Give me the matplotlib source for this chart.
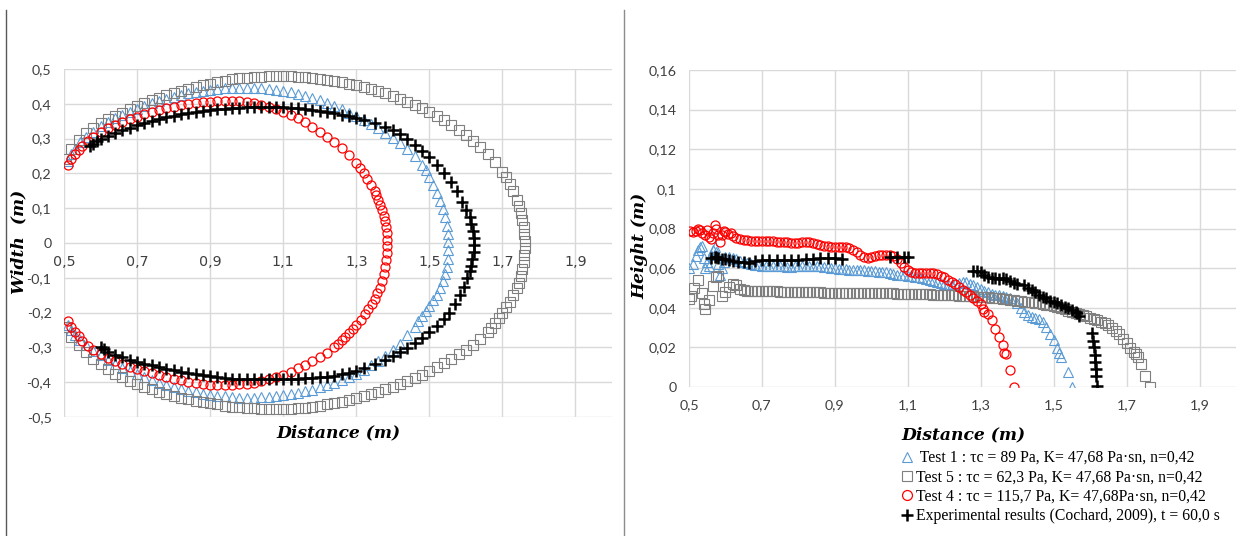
import matplotlib.pyplot as plt
from matplotlib.lines import Line2D
from matplotlib.ticker import FuncFormatter

# ---- plan view: width vs distance (upper and lower edge of each front) ----
test1_width_top = [(0.51,0.235),(0.52,0.255),(0.53,0.27),(0.545,0.29),(0.56,0.305),(0.58,0.32),(0.60,0.335),
    (0.62,0.347),(0.64,0.358),(0.66,0.368),(0.68,0.377),(0.70,0.386),(0.72,0.394),(0.74,0.401),(0.76,0.408),
    (0.78,0.414),(0.80,0.42),(0.82,0.425),(0.84,0.43),(0.86,0.434),(0.88,0.437),(0.90,0.44),(0.92,0.442),
    (0.94,0.444),(0.96,0.445),(0.98,0.446),(1.00,0.446),(1.02,0.446),(1.04,0.445),(1.06,0.443),(1.08,0.44),
    (1.10,0.437),(1.12,0.433),(1.14,0.428),(1.16,0.423),(1.18,0.417),(1.20,0.41),(1.22,0.402),(1.24,0.394),
    (1.26,0.385),(1.28,0.375),(1.30,0.365),(1.32,0.354),(1.34,0.342),(1.36,0.33),(1.38,0.316),(1.40,0.302),
    (1.42,0.286),(1.44,0.27),(1.46,0.251),(1.48,0.225),(1.49,0.21),(1.50,0.19),(1.51,0.168),(1.52,0.145),
    (1.53,0.12),(1.538,0.098),(1.543,0.075),(1.547,0.05),(1.55,0.025),(1.552,0.003)]
test1_width_bottom = [(1.552,-0.02),(1.55,-0.045),(1.547,-0.07),(1.543,-0.09),(1.537,-0.11),(1.53,-0.13),
    (1.52,-0.15),(1.51,-0.165),(1.50,-0.18),(1.49,-0.195),(1.48,-0.21),(1.47,-0.225),(1.46,-0.24),(1.44,-0.265),
    (1.42,-0.29),(1.40,-0.308),(1.38,-0.325),(1.36,-0.339),(1.34,-0.352),(1.32,-0.364),(1.30,-0.375),
    (1.28,-0.385),(1.26,-0.394),(1.24,-0.402),(1.22,-0.409),(1.20,-0.415),(1.18,-0.421),(1.16,-0.426),
    (1.14,-0.43),(1.12,-0.434),(1.10,-0.437),(1.08,-0.44),(1.06,-0.442),(1.04,-0.443),(1.02,-0.444),
    (1.00,-0.444),(0.98,-0.444),(0.96,-0.443),(0.94,-0.441),(0.92,-0.439),(0.90,-0.436),(0.88,-0.433),
    (0.86,-0.429),(0.84,-0.425),(0.82,-0.42),(0.80,-0.414),(0.78,-0.408),(0.76,-0.401),(0.74,-0.394),
    (0.72,-0.386),(0.70,-0.377),(0.68,-0.368),(0.66,-0.358),(0.64,-0.347),(0.62,-0.336),(0.60,-0.323),
    (0.58,-0.309),(0.56,-0.294),(0.545,-0.28),(0.53,-0.264),(0.52,-0.25),(0.51,-0.235)]

test5_width_top = [(0.505,0.24),(0.52,0.27),(0.54,0.295),(0.56,0.315),(0.58,0.33),(0.60,0.345),(0.62,0.355),
    (0.64,0.365),(0.66,0.375),(0.68,0.385),(0.70,0.395),(0.72,0.402),(0.74,0.41),(0.76,0.418),(0.78,0.425),
    (0.80,0.432),(0.82,0.438),(0.84,0.443),(0.86,0.448),(0.88,0.453),(0.90,0.458),(0.92,0.462),(0.94,0.466),
    (0.96,0.47),(0.98,0.473),(1.00,0.475),(1.02,0.477),(1.04,0.478),(1.06,0.479),(1.08,0.48),(1.10,0.48),
    (1.12,0.479),(1.14,0.478),(1.16,0.477),(1.18,0.475),(1.20,0.472),(1.22,0.469),(1.24,0.466),(1.26,0.462),
    (1.28,0.458),(1.30,0.454),(1.32,0.449),(1.34,0.443),(1.36,0.437),(1.38,0.43),(1.40,0.423),(1.42,0.415),
    (1.44,0.406),(1.46,0.397),(1.48,0.387),(1.50,0.377),(1.52,0.365),(1.54,0.353),(1.56,0.34),(1.58,0.325),
    (1.60,0.31),(1.62,0.293),(1.64,0.275),(1.66,0.255),(1.68,0.232),(1.70,0.205),(1.71,0.19),(1.72,0.17),
    (1.73,0.15),(1.74,0.125),(1.745,0.105),(1.75,0.085),(1.755,0.065),(1.758,0.045),(1.76,0.025),(1.762,0.005)]
test5_width_bottom = [(1.762,-0.015),(1.76,-0.035),(1.758,-0.055),(1.755,-0.075),(1.75,-0.095),(1.745,-0.115),
    (1.74,-0.13),(1.73,-0.15),(1.72,-0.17),(1.71,-0.185),(1.70,-0.2),(1.69,-0.215),(1.68,-0.23),(1.67,-0.243),
    (1.66,-0.256),(1.64,-0.275),(1.62,-0.292),(1.60,-0.307),(1.58,-0.32),(1.56,-0.333),(1.54,-0.345),
    (1.52,-0.357),(1.50,-0.368),(1.48,-0.378),(1.46,-0.388),(1.44,-0.397),(1.42,-0.405),(1.40,-0.413),
    (1.38,-0.42),(1.36,-0.427),(1.34,-0.434),(1.32,-0.44),(1.30,-0.446),(1.28,-0.451),(1.26,-0.456),
    (1.24,-0.46),(1.22,-0.464),(1.20,-0.467),(1.18,-0.47),(1.16,-0.473),(1.14,-0.475),(1.12,-0.476),
    (1.10,-0.477),(1.08,-0.477),(1.06,-0.477),(1.04,-0.476),(1.02,-0.475),(1.00,-0.474),(0.98,-0.472),
    (0.96,-0.47),(0.94,-0.467),(0.92,-0.464),(0.90,-0.461),(0.88,-0.457),(0.86,-0.453),(0.84,-0.449),
    (0.82,-0.444),(0.80,-0.439),(0.78,-0.433),(0.76,-0.427),(0.74,-0.42),(0.72,-0.413),(0.70,-0.405),
    (0.68,-0.396),(0.66,-0.386),(0.64,-0.375),(0.62,-0.362),(0.60,-0.348),(0.58,-0.332),(0.56,-0.314),
    (0.54,-0.294),(0.52,-0.27),(0.505,-0.24)]

test4_width_top = [(0.51,0.225),(0.52,0.24),(0.53,0.255),(0.54,0.268),(0.55,0.28),(0.565,0.293),(0.58,0.305),
    (0.60,0.318),(0.62,0.33),(0.64,0.34),(0.66,0.348),(0.68,0.356),(0.70,0.363),(0.72,0.37),(0.74,0.376),
    (0.76,0.382),(0.78,0.387),(0.80,0.392),(0.82,0.396),(0.84,0.399),(0.86,0.402),(0.88,0.404),(0.90,0.406),
    (0.92,0.407),(0.94,0.408),(0.96,0.408),(0.98,0.407),(1.00,0.405),(1.02,0.401),(1.04,0.396),(1.06,0.39),
    (1.08,0.384),(1.10,0.377),(1.12,0.368),(1.14,0.358),(1.16,0.347),(1.18,0.334),(1.20,0.32),(1.22,0.305),
    (1.24,0.29),(1.26,0.272),(1.28,0.252),(1.30,0.23),(1.31,0.215),(1.32,0.2),(1.33,0.183),(1.34,0.167),
    (1.35,0.15),(1.355,0.138),(1.36,0.125),(1.365,0.11),(1.37,0.095),(1.375,0.078),(1.378,0.062),
    (1.381,0.045),(1.383,0.028),(1.385,0.01)]
test4_width_bottom = [(1.385,-0.01),(1.384,-0.03),(1.382,-0.05),(1.379,-0.07),(1.375,-0.09),(1.37,-0.11),
    (1.364,-0.128),(1.357,-0.145),(1.35,-0.16),(1.342,-0.175),(1.333,-0.19),(1.323,-0.205),(1.312,-0.22),
    (1.30,-0.235),(1.29,-0.248),(1.28,-0.26),(1.27,-0.27),(1.26,-0.28),(1.25,-0.29),(1.24,-0.3),(1.22,-0.315),
    (1.20,-0.328),(1.18,-0.34),(1.16,-0.35),(1.14,-0.36),(1.12,-0.37),(1.10,-0.378),(1.08,-0.386),
    (1.06,-0.392),(1.04,-0.397),(1.02,-0.401),(1.00,-0.404),(0.98,-0.406),(0.96,-0.407),(0.94,-0.408),
    (0.92,-0.408),(0.90,-0.407),(0.88,-0.405),(0.86,-0.402),(0.84,-0.399),(0.82,-0.395),(0.80,-0.391),
    (0.78,-0.386),(0.76,-0.38),(0.74,-0.374),(0.72,-0.368),(0.70,-0.362),(0.68,-0.355),(0.66,-0.347),
    (0.64,-0.339),(0.62,-0.33),(0.60,-0.32),(0.58,-0.308),(0.565,-0.295),(0.55,-0.282),(0.54,-0.268),
    (0.53,-0.255),(0.52,-0.24),(0.51,-0.225)]

exp_width_top = [(0.57,0.278),(0.58,0.285),(0.59,0.292),(0.60,0.298),(0.62,0.307),(0.64,0.316),(0.66,0.324),
    (0.68,0.331),(0.70,0.338),(0.72,0.344),(0.74,0.35),(0.76,0.356),(0.78,0.361),(0.80,0.366),(0.82,0.37),
    (0.84,0.374),(0.86,0.377),(0.88,0.38),(0.90,0.382),(0.92,0.384),(0.94,0.386),(0.96,0.388),(0.98,0.389),
    (1.00,0.39),(1.02,0.39),(1.04,0.391),(1.06,0.391),(1.08,0.39),(1.10,0.39),(1.12,0.389),(1.14,0.387),
    (1.16,0.385),(1.18,0.383),(1.20,0.38),(1.22,0.377),(1.24,0.373),(1.26,0.369),(1.28,0.365),(1.30,0.36),
    (1.32,0.354),(1.35,0.345),(1.38,0.333),(1.40,0.324),(1.42,0.312),(1.44,0.298),(1.46,0.282),(1.48,0.265),
    (1.50,0.246),(1.52,0.225),(1.54,0.2),(1.56,0.176),(1.575,0.15),(1.59,0.118),(1.60,0.095),(1.61,0.075),
    (1.615,0.055),(1.62,0.035),(1.622,0.015)]
exp_width_bottom = [(1.622,-0.005),(1.621,-0.025),(1.618,-0.045),(1.614,-0.065),(1.61,-0.08),(1.603,-0.1),
    (1.595,-0.125),(1.585,-0.15),(1.57,-0.176),(1.555,-0.2),(1.54,-0.218),(1.52,-0.238),(1.50,-0.255),
    (1.48,-0.272),(1.46,-0.288),(1.44,-0.302),(1.42,-0.314),(1.40,-0.325),(1.38,-0.335),(1.35,-0.348),
    (1.32,-0.36),(1.30,-0.367),(1.28,-0.373),(1.26,-0.377),(1.24,-0.381),(1.22,-0.384),(1.20,-0.386),
    (1.18,-0.388),(1.16,-0.389),(1.14,-0.39),(1.12,-0.39),(1.10,-0.391),(1.08,-0.391),(1.06,-0.392),
    (1.04,-0.392),(1.02,-0.392),(1.00,-0.392),(0.98,-0.391),(0.96,-0.39),(0.94,-0.388),(0.92,-0.386),
    (0.90,-0.383),(0.88,-0.38),(0.86,-0.377),(0.84,-0.374),(0.82,-0.37),(0.80,-0.366),(0.78,-0.362),
    (0.76,-0.357),(0.74,-0.352),(0.72,-0.347),(0.70,-0.342),(0.68,-0.336),(0.66,-0.329),(0.64,-0.321),
    (0.62,-0.312),(0.61,-0.306),(0.60,-0.3)]

# ---- side view: height vs distance ----
test1_height = [(0.50,0.06),(0.51,0.062),(0.52,0.066),(0.525,0.069),(0.53,0.0705),(0.535,0.0712),(0.54,0.065),
    (0.545,0.06),(0.55,0.063),(0.555,0.061),(0.56,0.0665),(0.565,0.069),(0.57,0.0705),(0.575,0.068),(0.58,0.062),
    (0.585,0.0565),(0.59,0.06),(0.595,0.063),(0.60,0.0655),(0.61,0.0657),(0.62,0.065),(0.63,0.0645),(0.64,0.0638),
    (0.65,0.0632),(0.66,0.0627),(0.67,0.0622),(0.68,0.0618),(0.69,0.0615),(0.70,0.0613),(0.71,0.0612),(0.72,0.0611),
    (0.73,0.061),(0.74,0.061),(0.75,0.0609),(0.76,0.0609),(0.77,0.0608),(0.78,0.0608),(0.79,0.0609),(0.80,0.061),
    (0.81,0.061),(0.82,0.0611),(0.83,0.0612),(0.84,0.0612),(0.85,0.0611),(0.86,0.061),(0.87,0.0608),(0.88,0.0606),
    (0.89,0.0603),(0.90,0.06),(0.91,0.0598),(0.92,0.0596),(0.93,0.0594),(0.94,0.0592),(0.95,0.0591),(0.96,0.059),
    (0.97,0.059),(0.98,0.0589),(0.99,0.0588),(1.00,0.0586),(1.01,0.0584),(1.02,0.0582),(1.03,0.058),(1.04,0.0578),
    (1.05,0.0575),(1.06,0.057),(1.07,0.0566),(1.08,0.0564),(1.09,0.0563),(1.10,0.0562),(1.11,0.056),(1.12,0.0557),
    (1.13,0.0554),(1.14,0.055),(1.15,0.0546),(1.16,0.0542),(1.17,0.0537),(1.18,0.0532),(1.19,0.0527),(1.20,0.0522),
    (1.21,0.0518),(1.22,0.0515),(1.23,0.0518),(1.24,0.0525),(1.25,0.053),(1.26,0.0528),(1.27,0.0522),(1.28,0.0515),
    (1.29,0.0505),(1.30,0.0495),(1.31,0.0485),(1.32,0.0477),(1.33,0.047),(1.34,0.0466),(1.35,0.0462),(1.36,0.0458),
    (1.37,0.0454),(1.38,0.0448),(1.39,0.044),(1.40,0.0425),(1.41,0.04),(1.42,0.038),(1.43,0.0365),(1.44,0.0355),
    (1.45,0.035),(1.46,0.0342),(1.47,0.033),(1.48,0.0305),(1.49,0.027),(1.50,0.0235),(1.51,0.0195),(1.515,0.017),
    (1.52,0.0152),(1.54,0.0075),(1.55,0.0)]

test5_height = [(0.50,0.0445),(0.505,0.046),(0.515,0.05),(0.525,0.054),(0.535,0.0475),(0.54,0.042),(0.545,0.0395),
    (0.555,0.044),(0.565,0.051),(0.575,0.0555),(0.58,0.056),(0.59,0.046),(0.60,0.048),(0.61,0.0505),(0.62,0.052),
    (0.63,0.0515),(0.64,0.0495),(0.65,0.0488),(0.66,0.0487),(0.67,0.0487),(0.68,0.0486),(0.69,0.0486),(0.70,0.0485),
    (0.71,0.0484),(0.72,0.0484),(0.73,0.0483),(0.74,0.0483),(0.75,0.0482),(0.76,0.0481),(0.77,0.048),(0.78,0.048),
    (0.79,0.0479),(0.80,0.0479),(0.81,0.0478),(0.82,0.0478),(0.83,0.0477),(0.84,0.0477),(0.85,0.0477),(0.86,0.0477),
    (0.87,0.0476),(0.88,0.0476),(0.89,0.0475),(0.90,0.0475),(0.91,0.0475),(0.92,0.0475),(0.93,0.0475),(0.94,0.0475),
    (0.95,0.0475),(0.96,0.0475),(0.97,0.0475),(0.98,0.0475),(0.99,0.0474),(1.00,0.0474),(1.01,0.0473),(1.02,0.0473),
    (1.03,0.0473),(1.04,0.0473),(1.05,0.0472),(1.06,0.0472),(1.07,0.0471),(1.08,0.0471),(1.09,0.047),(1.10,0.047),
    (1.11,0.0469),(1.12,0.0469),(1.13,0.0468),(1.14,0.0468),(1.15,0.0467),(1.16,0.0467),(1.17,0.0466),(1.18,0.0466),
    (1.19,0.0465),(1.20,0.0465),(1.21,0.0464),(1.22,0.0463),(1.23,0.0462),(1.24,0.0461),(1.25,0.046),(1.26,0.0459),
    (1.27,0.0458),(1.28,0.0457),(1.29,0.0456),(1.30,0.0455),(1.31,0.0453),(1.32,0.0452),(1.33,0.045),(1.34,0.0449),
    (1.35,0.0447),(1.36,0.0445),(1.37,0.0443),(1.38,0.044),(1.39,0.0438),(1.40,0.0435),(1.41,0.0433),(1.42,0.0431),
    (1.43,0.0429),(1.44,0.0427),(1.45,0.0425),(1.46,0.0422),(1.47,0.0419),(1.48,0.0416),(1.49,0.0413),(1.50,0.041),
    (1.51,0.0404),(1.52,0.0398),(1.53,0.0392),(1.54,0.0386),(1.55,0.038),(1.56,0.0375),(1.57,0.0369),(1.58,0.0363),
    (1.59,0.0357),(1.60,0.035),(1.61,0.0344),(1.62,0.0338),(1.63,0.033),(1.64,0.0322),(1.65,0.0312),(1.66,0.03),
    (1.67,0.0285),(1.68,0.0265),(1.69,0.0242),(1.70,0.022),(1.71,0.0198),(1.72,0.0175),(1.725,0.0165),(1.73,0.015),
    (1.74,0.0118),(1.75,0.0056),(1.765,0.0)]

test4_height = [(0.503,0.0785),(0.51,0.078),(0.518,0.0788),(0.525,0.0795),(0.53,0.079),(0.537,0.0775),(0.545,0.0765),
    (0.55,0.079),(0.555,0.0755),(0.56,0.0745),(0.565,0.0775),(0.57,0.082),(0.575,0.0795),(0.58,0.0765),(0.585,0.073),
    (0.59,0.0765),(0.595,0.0785),(0.60,0.078),(0.607,0.077),(0.615,0.0775),(0.622,0.076),(0.63,0.075),(0.64,0.0745),
    (0.65,0.0742),(0.66,0.074),(0.67,0.0738),(0.68,0.0737),(0.69,0.0736),(0.70,0.0736),(0.71,0.0736),(0.72,0.0735),
    (0.73,0.0735),(0.74,0.0734),(0.75,0.0733),(0.76,0.0732),(0.77,0.073),(0.78,0.0728),(0.79,0.0727),(0.80,0.0728),
    (0.81,0.073),(0.82,0.0732),(0.83,0.073),(0.84,0.0726),(0.85,0.0722),(0.86,0.0718),(0.87,0.0713),(0.88,0.071),
    (0.89,0.0707),(0.90,0.0705),(0.91,0.0705),(0.92,0.0706),(0.93,0.0705),(0.94,0.07),(0.95,0.0692),(0.96,0.068),
    (0.97,0.0668),(0.98,0.0657),(0.99,0.065),(1.00,0.0655),(1.01,0.066),(1.02,0.0665),(1.03,0.0668),(1.04,0.0668),
    (1.05,0.0665),(1.06,0.066),(1.07,0.0645),(1.08,0.0625),(1.09,0.0605),(1.10,0.059),(1.11,0.058),(1.12,0.0577),
    (1.13,0.0575),(1.14,0.0575),(1.15,0.0577),(1.16,0.0577),(1.17,0.0575),(1.18,0.057),(1.19,0.0562),(1.20,0.0553),
    (1.21,0.0542),(1.22,0.053),(1.23,0.0518),(1.24,0.0505),(1.25,0.0492),(1.26,0.0478),(1.27,0.0465),(1.28,0.045),
    (1.29,0.0435),(1.30,0.042),(1.305,0.0395),(1.31,0.038),(1.32,0.037),(1.33,0.034),(1.34,0.0295),(1.35,0.025),
    (1.36,0.021),(1.365,0.017),(1.37,0.0165),(1.38,0.0085),(1.39,0.0)]

exp_height = [(0.56,0.065),(0.57,0.0655),(0.575,0.0658),(0.58,0.065),(0.59,0.0648),(0.60,0.0645),(0.61,0.064),
    (0.62,0.0635),(0.635,0.063),(0.65,0.063),(0.665,0.0628),(0.68,0.0635),(0.70,0.064),(0.72,0.0643),(0.74,0.0643),
    (0.76,0.0643),(0.78,0.0643),(0.80,0.0643),(0.82,0.0645),(0.84,0.0648),(0.86,0.065),(0.88,0.065),(0.90,0.065),
    (0.92,0.0648),(1.05,0.0655),(1.07,0.0655),(1.09,0.0655),(1.10,0.0655),(1.28,0.0588),(1.29,0.0585),(1.30,0.058),
    (1.31,0.0565),(1.32,0.0555),(1.33,0.055),(1.34,0.0548),(1.35,0.0547),(1.36,0.0548),(1.37,0.0545),(1.38,0.0535),
    (1.39,0.0525),(1.40,0.052),(1.42,0.0515),(1.43,0.05),(1.44,0.049),(1.45,0.048),(1.46,0.0462),(1.47,0.0455),
    (1.48,0.0448),(1.49,0.0435),(1.50,0.0428),(1.51,0.0422),(1.52,0.0415),(1.53,0.0405),(1.54,0.0398),(1.55,0.039),
    (1.56,0.038),(1.565,0.0375),(1.57,0.036),(1.605,0.0275),(1.607,0.023),(1.61,0.02),(1.612,0.016),(1.613,0.0125),
    (1.615,0.009),(1.616,0.0055),(1.62,0.0005)]

labels = [' Test 1 : τc = 89 Pa, K= 47,68 Pa·sn, n=0,42',
          'Test 5 : τc = 62,3 Pa, K= 47,68 Pa·sn, n=0,42',
          'Test 4 : τc = 115,7 Pa, K= 47,68Pa·sn, n=0,42',
          'Experimental results (Cochard, 2009), t = 60,0 s']

x_ticks = [0.5, 0.7, 0.9, 1.1, 1.3, 1.5, 1.7, 1.9]
width_ticks = [-0.5, -0.4, -0.3, -0.2, -0.1, 0, 0.1, 0.2, 0.3, 0.4, 0.5]
height_ticks = [0, 0.02, 0.04, 0.06, 0.08, 0.1, 0.12, 0.14, 0.16]

styles = [
    dict(marker='^', color='#5B9BD5', mfc='none', ms=6.5, mew=0.8, ls='none'),
    dict(marker='s', color='#7F7F7F', mfc='none', ms=6.5, mew=0.8, ls='none'),
    dict(marker='o', color='#FF0000', mfc='none', ms=6.5, mew=0.9, ls='none'),
    dict(marker='+', color='#000000', ms=8, mew=1.8, ls='none'),
]

W, H = 1248, 536
fig = plt.figure(figsize=(W / 100, H / 100), dpi=100)

TICK_FONT = dict(family='Lato', size=10.3)
TITLE_FONT = dict(family='DejaVu Serif', size=12.3, weight='bold', style='italic')


def comma(v, pos):
    v = round(v, 3)
    if v == 0:
        return '0'
    return f'{v:g}'.replace('.', ',')


def px_axes(left, top, right, bottom):
    return fig.add_axes([left / W, 1 - bottom / H, (right - left) / W, (bottom - top) / H])


def style_axes(ax, yticks):
    ax.set_xlim(0.5, 2.0)
    ax.set_xticks(x_ticks)
    ax.set_yticks(yticks)
    ax.set_ylim(yticks[0], yticks[-1])
    ax.xaxis.set_major_formatter(FuncFormatter(comma))
    ax.yaxis.set_major_formatter(FuncFormatter(comma))
    ax.grid(True, color='#D9D9D9', lw=1)
    ax.set_axisbelow(True)
    for s in ax.spines.values():
        s.set_visible(False)
    ax.tick_params(length=0, colors='#404040', labelsize=TICK_FONT['size'])
    ax.tick_params(axis='x', pad=9)
    ax.tick_params(axis='y', pad=9)
    for lab in ax.get_xticklabels() + ax.get_yticklabels():
        lab.set_family(TICK_FONT['family'])


# left panel
ax1 = px_axes(64, 69, 612, 417)
for top, bottom, st in zip([test1_width_top, test5_width_top, test4_width_top, exp_width_top],
                           [test1_width_bottom, test5_width_bottom, test4_width_bottom, exp_width_bottom],
                           styles):
    pts = top + bottom
    ax1.plot([p[0] for p in pts], [p[1] for p in pts], **st)
style_axes(ax1, width_ticks)
ax1.spines['bottom'].set_position(('data', 0))

# right panel
ax2 = px_axes(689, 70, 1236, 387)
handles = []
for series, st in zip([test1_height, test5_height, test4_height, exp_height], styles):
    h, = ax2.plot([p[0] for p in series], [p[1] for p in series], **st)
    handles.append(h)
style_axes(ax2, height_ticks)

# axis titles
fig.text(338 / W, 1 - 433 / H, 'Distance (m)', ha='center', va='center', **TITLE_FONT)
fig.text(963 / W, 1 - 435 / H, 'Distance (m)', ha='center', va='center', **TITLE_FONT)
fig.text(19 / W, 1 - 242 / H, 'Width  (m)', ha='center', va='center', rotation=90, **TITLE_FONT)
fig.text(640 / W, 1 - 246 / H, 'Height (m)', ha='center', va='center', rotation=90, **TITLE_FONT)

fig.legend(handles, labels, loc='upper left', bbox_to_anchor=(902 / W, 1 - 450 / H),
           frameon=False, borderpad=0, borderaxespad=0, handlelength=0.6, handletextpad=0.3,
           labelspacing=0.22, markerscale=1.1, prop=dict(family='Liberation Serif', size=11.3))

# panel separators
fig.add_artist(Line2D([6 / W, 6 / W], [0, 1 - 10 / H], color='#595959', lw=1))
fig.add_artist(Line2D([623.5 / W, 623.5 / W], [0, 1 - 10 / H], color='#8C8C8C', lw=1))

fig.savefig('out.png', dpi=100)
